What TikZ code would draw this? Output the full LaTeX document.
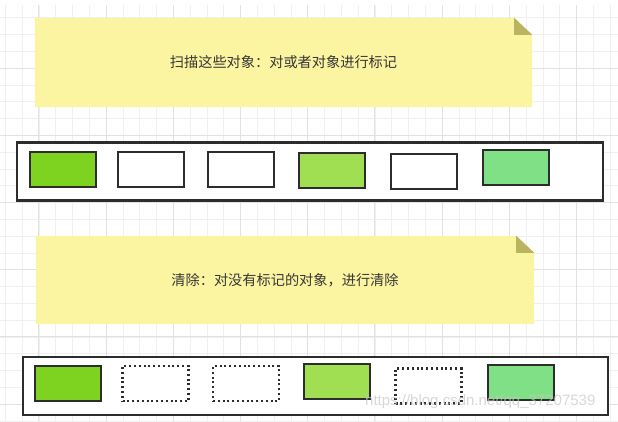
\documentclass[tikz,border=0pt]{standalone}
\usepackage{fontspec}
\newfontfamily\cjk{Noto Sans CJK SC}
\newfontfamily\wmfont{Liberation Sans}
\usetikzlibrary{backgrounds}
\definecolor{gridminor}{RGB}{240,240,240}
\definecolor{gridmajor}{RGB}{226,226,226}
\definecolor{notefill}{RGB}{251,244,160}
\definecolor{notefold}{RGB}{186,180,96}
\definecolor{objline}{RGB}{45,45,45}
\definecolor{txtgray}{RGB}{55,55,55}
\definecolor{greenA}{RGB}{126,211,33}
\definecolor{greenB}{RGB}{160,222,82}
\definecolor{greenC}{RGB}{128,224,134}

\begin{document}
\begin{tikzpicture}[
  x=1pt, y=-1pt,
  note/.style={minimum width=497, minimum height=89, inner sep=0pt,
               font=\cjk\fontsize{14.2}{16}\selectfont, text=txtgray},
  bar/.style={draw=objline, fill=white, line width=2.2pt, inner sep=0pt,
              minimum height=58},
  obj/.style={draw=objline, line width=2pt, minimum width=66,
              minimum height=35, inner sep=0pt},
  freed/.style={obj, line width=2.4pt, dash pattern=on 2pt off 2.8pt,
                fill=white}
]
\useasboundingbox (0,0) rectangle (618,421);

% ---- step 1: mark
\node[note] (mark) at (283.5,62.5)
  {扫描这些对象：对或者对象进行标记};
\fill[notefold] ([xshift=-18]mark.north east) -- ([yshift=-17]mark.north east)
  -- ([xshift=-18,yshift=-17]mark.north east) -- cycle;

\node[bar, minimum width=586] (heap1) at (310,171.5) {};
\node[obj, fill=greenA] (a1) at (62.5,169.5) {};
\node[obj, fill=white]  (a2) at (150.6,169.2) {};
\node[obj, fill=white]  (a3) at (240.8,169.4) {};
\node[obj, fill=greenB] (a4) at (332.2,170.2) {};
\node[obj, fill=white]  (a5) at (423.5,171.7) {};
\node[obj, fill=greenC] (a6) at (516,167.7) {};

% ---- step 2: sweep
\node[note, minimum width=498, minimum height=88] (sweep)
  at (285,280) {清除：对没有标记的对象，进行清除};
\fill[notefold] ([xshift=-18]sweep.north east) -- ([yshift=-17]sweep.north east)
  -- ([xshift=-18,yshift=-17]sweep.north east) -- cycle;

\node[bar, minimum width=585] (heap2) at (315.4,386) {};
\node[obj, fill=greenA] (b1) at (67.6,383.9) {};
\node[freed] (b2) at (155.5,383.4) {};
\node[freed] (b3) at (245.9,383.4) {};
\node[obj, fill=greenB] (b4) at (336.8,381.5) {};
\node[freed] (b5) at (428.5,386) {};
\node[obj, fill=greenC] (b6) at (521.3,382.4) {};

% ---- canvas grid and note paper
\begin{scope}[on background layer]
\foreach \i in {0,...,36}
  \draw[gridminor, line width=0.6pt] (5.2+16.8*\i,5) -- (5.2+16.8*\i,421);
\foreach \j in {1,...,25}
  \draw[gridminor, line width=0.6pt] (0,0.8+16.8*\j) -- (618,0.8+16.8*\j);
\foreach \i in {0,...,9}
  \draw[gridmajor, line width=0.7pt] (38.8+67.2*\i,5) -- (38.8+67.2*\i,421);
\foreach \j in {1,...,6}
  \draw[gridmajor, line width=0.7pt] (0,0.8+67.2*\j) -- (618,0.8+67.2*\j);
\foreach \n in {mark,sweep}
  \fill[notefill] (\n.south west) |- ([xshift=-18]\n.north east)
    -- ([yshift=-17]\n.north east) |- cycle;
\end{scope}

% ---- watermark
\node[font=\wmfont\fontsize{15}{17}\selectfont, text=black!22, opacity=0.7,
      anchor=west, inner sep=0pt] (wm) at (365,402)
  {https://blog.csdn.net/qq\_37207539};
\end{tikzpicture}
\end{document}
